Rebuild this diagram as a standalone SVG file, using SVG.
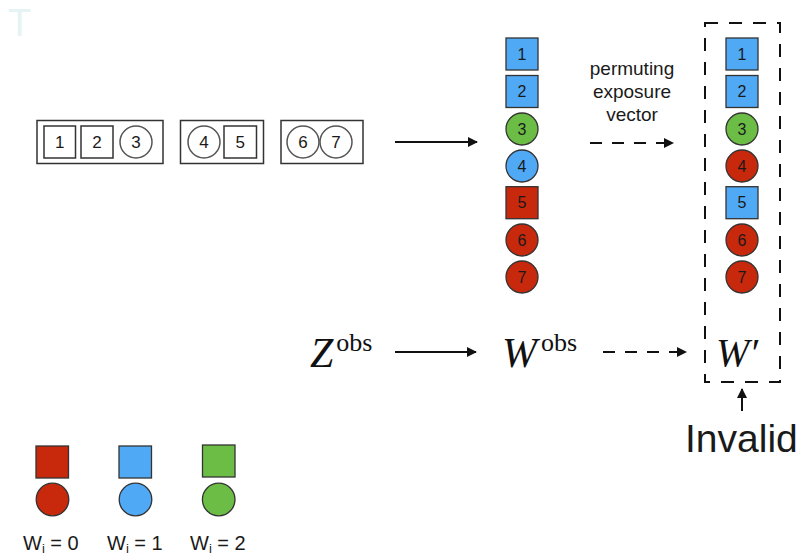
<svg xmlns="http://www.w3.org/2000/svg" width="799" height="556" viewBox="0 0 799 556">
<defs>
<style>
.num{font-family:"Liberation Sans",Arial,sans-serif;font-size:16px;fill:#1a1a1a;text-anchor:middle;dominant-baseline:central}
.bnum{font-family:"Liberation Sans",Arial,sans-serif;font-size:17px;fill:#1a1a1a;text-anchor:middle;dominant-baseline:central}
.box{fill:#fff;stroke:#333;stroke-width:1.5}
.wc{fill:#fff;stroke:#555;stroke-width:1.5}
.red{fill:#c8280b;stroke:#333;stroke-width:1.3}
.blue{fill:#4fa9f5;stroke:#333;stroke-width:1.3}
.green{fill:#6cbd45;stroke:#333;stroke-width:1.3}
.lab{font-family:"Liberation Sans",Arial,sans-serif;fill:#1a1a1a}
.math{font-family:"Liberation Serif","Times New Roman",serif;fill:#111}
.solid{stroke:#111;stroke-width:2;fill:none}
.dash{stroke:#111;stroke-width:2;fill:none;stroke-dasharray:12 10}
</style>
<marker id="ah" markerWidth="10" markerHeight="10" refX="9" refY="5" orient="auto" markerUnits="userSpaceOnUse">
<path d="M0,0 L10,5 L0,10 Z" fill="#111"/>
</marker>
</defs>
<rect width="799" height="556" fill="#fff"/>
<text x="8" y="36" font-family="Liberation Sans,sans-serif" font-size="38" fill="#e6f3f4">T</text>

<g id="block1">
<rect class="box" x="37" y="120.5" width="126" height="43"/>
<rect class="box" x="44" y="126" width="31.5" height="32"/><text class="bnum" x="59.8" y="142">1</text>
<rect class="box" x="81" y="126" width="32" height="32"/><text class="bnum" x="97" y="142">2</text>
<circle class="wc" cx="136" cy="142" r="16"/><text class="bnum" x="136" y="142">3</text>
</g>
<g id="block2">
<rect class="box" x="180.5" y="120.5" width="83" height="43"/>
<circle class="wc" cx="204" cy="142" r="16"/><text class="bnum" x="204" y="142">4</text>
<rect class="box" x="224" y="126" width="32.5" height="32"/><text class="bnum" x="240.3" y="142">5</text>
</g>
<g id="block3">
<rect class="box" x="281" y="120.5" width="82" height="43"/>
<circle class="wc" cx="303" cy="142" r="16"/><text class="bnum" x="303" y="142">6</text>
<circle class="wc" cx="336" cy="142" r="16"/><text class="bnum" x="336" y="142">7</text>
</g>

<g id="wobs-vector">
<rect class="blue" x="506" y="38" width="32" height="32"/><text class="num" x="522" y="54">1</text>
<rect class="blue" x="506" y="75.5" width="32" height="32"/><text class="num" x="522" y="91.5">2</text>
<circle class="green" cx="522" cy="129" r="16"/><text class="num" x="522" y="129">3</text>
<circle class="blue" cx="522" cy="166" r="16"/><text class="num" x="522" y="166">4</text>
<rect class="red" x="506" y="186.7" width="32" height="32"/><text class="num" x="522" y="202.7">5</text>
<circle class="red" cx="522" cy="240" r="16"/><text class="num" x="522" y="240">6</text>
<circle class="red" cx="522" cy="277" r="16"/><text class="num" x="522" y="277">7</text>
</g>

<g id="wprime-vector">
<rect class="dash" x="705" y="23" width="75" height="359" style="stroke-dasharray:13 11"/>
<rect class="blue" x="726" y="38" width="32" height="32"/><text class="num" x="742" y="54">1</text>
<rect class="blue" x="726" y="75.5" width="32" height="32"/><text class="num" x="742" y="91.5">2</text>
<circle class="green" cx="742" cy="129" r="16"/><text class="num" x="742" y="129">3</text>
<circle class="red" cx="742" cy="166" r="16"/><text class="num" x="742" y="166">4</text>
<rect class="blue" x="726" y="186.7" width="32" height="32"/><text class="num" x="742" y="202.7">5</text>
<circle class="red" cx="742" cy="240" r="16"/><text class="num" x="742" y="240">6</text>
<circle class="red" cx="742" cy="277" r="16"/><text class="num" x="742" y="277">7</text>
<text class="math" x="716" y="366" font-size="40" font-style="italic">W′</text>
</g>

<g id="label-permuting" class="lab" font-size="19" text-anchor="middle">
<text x="632" y="75">permuting</text>
<text x="632" y="98">exposure</text>
<text x="632" y="121">vector</text>
</g>

<g id="zobs"><text class="math" x="310" y="367"><tspan font-size="42" font-style="italic">Z</tspan><tspan font-size="26" dy="-16" dx="3">obs</tspan></text></g>
<g id="wobs"><text class="math" x="502" y="367"><tspan font-size="42" font-style="italic">W</tspan><tspan font-size="26" dy="-16" dx="4">obs</tspan></text></g>
<g id="invalid"><text class="lab" x="685" y="452" font-size="39">Invalid</text></g>

<g id="connectors">
<line class="solid" x1="395" y1="142" x2="477" y2="142" marker-end="url(#ah)"/>
<line class="dash" x1="590" y1="143" x2="673" y2="143" marker-end="url(#ah)"/>
<line class="solid" x1="395" y1="352" x2="476" y2="352" marker-end="url(#ah)"/>
<line class="dash" x1="603" y1="352" x2="686" y2="352" marker-end="url(#ah)"/>
<line class="solid" x1="742" y1="411" x2="742" y2="389" marker-end="url(#ah)"/>
</g>

<g id="legend">
<rect class="red" x="36" y="446" width="32.5" height="32"/>
<circle class="red" cx="52.5" cy="499.5" r="16.3"/>
<rect class="blue" x="119" y="446" width="32.5" height="32"/>
<circle class="blue" cx="135.5" cy="499.5" r="16.3"/>
<rect class="green" x="202.5" y="445" width="32.5" height="32"/>
<circle class="green" cx="218.7" cy="499.5" r="16.3"/>
<text class="lab" x="23" y="550" font-size="20">W<tspan font-size="13" dy="3">i</tspan><tspan dy="-3"> = 0</tspan></text>
<text class="lab" x="107" y="550" font-size="20">W<tspan font-size="13" dy="3">i</tspan><tspan dy="-3"> = 1</tspan></text>
<text class="lab" x="190" y="550" font-size="20">W<tspan font-size="13" dy="3">i</tspan><tspan dy="-3"> = 2</tspan></text>
</g>
</svg>
